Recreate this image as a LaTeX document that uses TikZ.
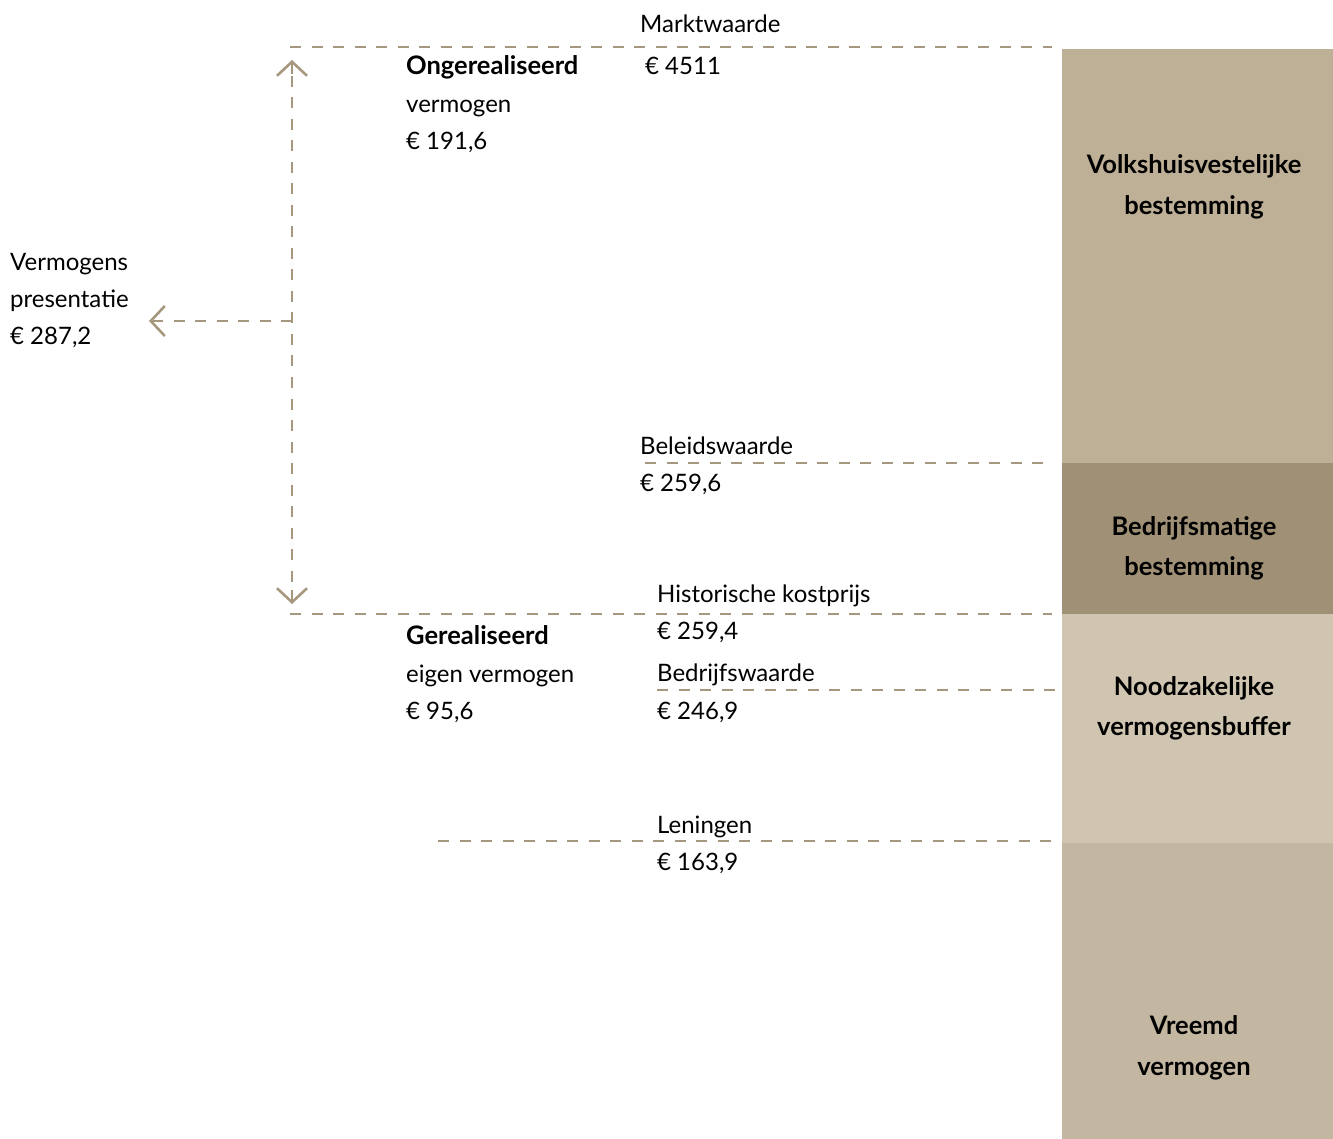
\documentclass[tikz,border=0pt]{standalone}
\usepackage{fontspec}
\setmainfont{Lato}
\usetikzlibrary{arrows.meta,positioning}
\definecolor{dashbrown}{RGB}{166,152,126}
\definecolor{volksbrown}{RGB}{190,176,150}
\definecolor{bedrijfbrown}{RGB}{160,145,118}
\definecolor{buffersand}{RGB}{208,197,176}
\definecolor{vreemdsand}{RGB}{196,183,162}

\begin{document}
\begin{tikzpicture}[x=1pt,y=-1pt,
	guide/.style={dashbrown,line width=2.7pt,dash pattern=on 11pt off 10.5pt},
	chev/.style={dashbrown,line width=2.6pt,-{Straight Barb[length=14pt,width=30pt]}},
	lbl/.style={anchor=west,inner sep=0pt,text height=17pt,text depth=0pt,
		font=\fontsize{24}{28}\selectfont},
	blbl/.style={lbl,font=\fontsize{25.5}{29}\selectfont\bfseries},
	blocktxt/.style={inner sep=0pt,text height=18pt,text depth=0pt,
		font=\fontsize{25.5}{29}\selectfont\bfseries}]
	\useasboundingbox (0,0) rectangle (1333,1139);

	% blocks on the right
	\fill[volksbrown] (1062,49) rectangle (1333,463);
	\fill[bedrijfbrown] (1062,463) rectangle (1333,614);
	\fill[buffersand] (1062,614) rectangle (1333,843);
	\fill[vreemdsand] (1062,843) rectangle (1333,1139);

	\node[blocktxt] (volks1) at (1194,165) {Volkshuisvestelijke};
	\node[blocktxt] (volks2) at (1194,206) {bestemming};
	\node[blocktxt] (bedr1) at (1194,526) {Bedrijfsmatige};
	\node[blocktxt] (bedr2) at (1194,566) {bestemming};
	\node[blocktxt] (nood1) at (1194,686) {Noodzakelijke};
	\node[blocktxt] (nood2) at (1194,726) {vermogensbuffer};
	\node[blocktxt] (vreemd1) at (1194,1025) {Vreemd};
	\node[blocktxt] (vreemd2) at (1194,1066) {vermogen};

	% guide lines
	\coordinate (markt-l) at (290,47);
	\coordinate (markt-r) at (1052,47);
	\coordinate (beleid-l) at (645,463);
	\coordinate (beleid-r) at (1052,463);
	\coordinate (hist-l) at (290,614);
	\coordinate (hist-r) at (1052,614);
	\coordinate (bedrw-l) at (657,690);
	\coordinate (bedrw-r) at (1062,690);
	\coordinate (lening-l) at (438,841);
	\coordinate (lening-r) at (1052,841);
	\draw[guide] (markt-l) -- (markt-r);
	\draw[guide] (beleid-l) -- (beleid-r);
	\draw[guide] (hist-l) -- (hist-r);
	\draw[guide] (bedrw-l) -- (bedrw-r);
	\draw[guide] (lening-l) -- (lening-r);

	% arrows
	\coordinate (ax-top) at (292,76);
	\coordinate (ax-bot) at (292,590);
	\coordinate (ax-mid) at (292,321);
	\coordinate (ax-left) at (168,321);
	\draw[guide] (ax-top) -- (ax-bot);
	\draw[guide] (ax-mid) -- (ax-left);
	\draw[chev] (292,74) -- (292,60);
	\draw[chev] (292,590) -- (292,604);
	\draw[chev] (163,321) -- (149,321);

	% labels
	\node[lbl] (markt) at (640,24) {Marktwaarde};
	\node[lbl] (markt-v) at (645,66) {€ 4511};
	\node[blbl] (onger1) at (406,66) {Ongerealiseerd};
	\node[lbl] (onger2) at (406,104) {vermogen};
	\node[lbl] (onger3) at (406,141) {€ 191,6};
	\node[lbl] (pres1) at (10,262) {Vermogens};
	\node[lbl] (pres2) at (10,299) {presentatie};
	\node[lbl] (pres3) at (10,336) {€ 287,2};
	\node[lbl] (beleid) at (640,446) {Beleidswaarde};
	\node[lbl] (beleid-v) at (640,483) {€ 259,6};
	\node[lbl] (hist) at (657,594) {Historische kostprijs};
	\node[lbl] (hist-v) at (657,631) {€ 259,4};
	\node[lbl] (bedrw) at (657,673) {Bedrijfswaarde};
	\node[lbl] (bedrw-v) at (657,711) {€ 246,9};
	\node[blbl] (gereal1) at (406,636) {Gerealiseerd};
	\node[lbl] (gereal2) at (406,674) {eigen vermogen};
	\node[lbl] (gereal3) at (406,711) {€ 95,6};
	\node[lbl] (lening) at (657,825) {Leningen};
	\node[lbl] (lening-v) at (657,862) {€ 163,9};
\end{tikzpicture}
\end{document}
